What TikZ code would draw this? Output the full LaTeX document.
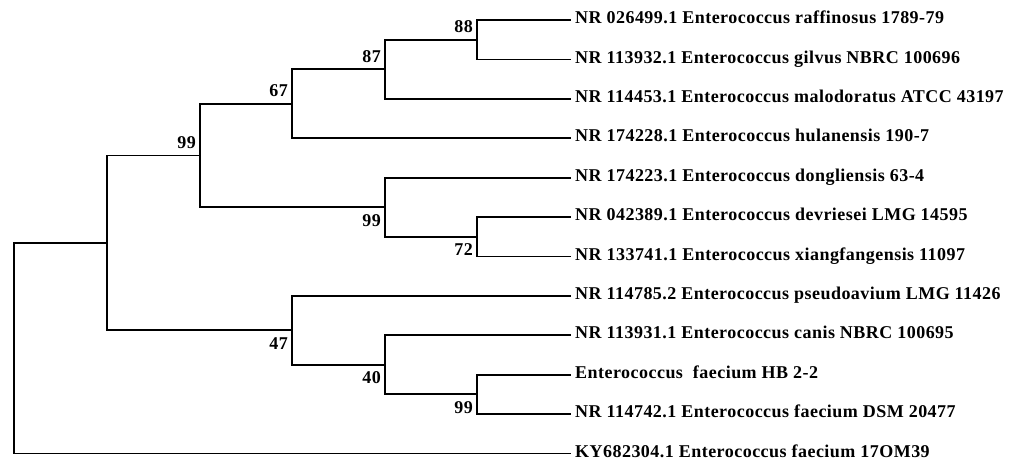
\documentclass[tikz,border=0pt]{standalone}
\usepackage{fontspec}
\newfontfamily\labfont{Liberation Serif}[LetterSpace=2.6]
\begin{document}
\begin{tikzpicture}[x=1pt,y=-1pt,
  br/.style={line width=1.8pt, black},
  leaflab/.style={font=\labfont\bfseries\fontsize{18}{20}\selectfont, anchor=base west, inner sep=0pt},
  bs/.style={font=\labfont\bfseries\fontsize{18}{20}\selectfont, anchor=east, inner sep=0pt}]
\useasboundingbox (0,0) rectangle (1016,459);
% leaf ends
\coordinate (L1) at (571,20);
\coordinate (L2) at (571,59.4);
\coordinate (L3) at (571,98.8);
\coordinate (L4) at (571,138.2);
\coordinate (L5) at (571,177.6);
\coordinate (L6) at (571,217);
\coordinate (L7) at (571,256.4);
\coordinate (L8) at (571,295.8);
\coordinate (L9) at (571,335.2);
\coordinate (L10) at (571,374.6);
\coordinate (L11) at (571,414);
\coordinate (L12) at (571,453.4);
% internal nodes
\coordinate (A) at (477,39.7);
\coordinate (B) at (385,69.25);
\coordinate (C) at (292,103.7);
\coordinate (D) at (477,236.7);
\coordinate (E) at (385,207.2);
\coordinate (F) at (200,155.5);
\coordinate (G) at (477,394.3);
\coordinate (H) at (385,364.8);
\coordinate (I) at (292,330.3);
\coordinate (J) at (107,242.9);
\coordinate (R) at (14,248.15);
% branches
\draw[br] (A) |- (L1);  \draw[br] (A) |- (L2);
\draw[br] (B) |- (A);   \draw[br] (B) |- (L3);
\draw[br] (C) |- (B);   \draw[br] (C) |- (L4);
\draw[br] (D) |- (L6);  \draw[br] (D) |- (L7);
\draw[br] (E) |- (L5);  \draw[br] (E) |- (D);
\draw[br] (F) |- (C);   \draw[br] (F) |- (E);
\draw[br] (G) |- (L10); \draw[br] (G) |- (L11);
\draw[br] (H) |- (L9);  \draw[br] (H) |- (G);
\draw[br] (I) |- (L8);  \draw[br] (I) |- (H);
\draw[br] (J) |- (F);   \draw[br] (J) |- (I);
\draw[br] (R) |- (J);   \draw[br] (R) |- (L12);
% leaf labels
\node[leaflab] (t1)  at ([shift={(4,3.6)}]L1)  {NR 026499.1 Enterococcus raffinosus 1789-79};
\node[leaflab] (t2)  at ([shift={(4,3.6)}]L2)  {NR 113932.1 Enterococcus gilvus NBRC 100696};
\node[leaflab] (t3)  at ([shift={(4,3.6)}]L3)  {NR 114453.1 Enterococcus malodoratus ATCC 43197};
\node[leaflab] (t4)  at ([shift={(4,3.6)}]L4)  {NR 174228.1 Enterococcus hulanensis 190-7};
\node[leaflab] (t5)  at ([shift={(4,3.6)}]L5)  {NR 174223.1 Enterococcus dongliensis 63-4};
\node[leaflab] (t6)  at ([shift={(4,3.6)}]L6)  {NR 042389.1 Enterococcus devriesei LMG 14595};
\node[leaflab] (t7)  at ([shift={(4,3.6)}]L7)  {NR 133741.1 Enterococcus xiangfangensis 11097};
\node[leaflab] (t8)  at ([shift={(4,3.6)}]L8)  {NR 114785.2 Enterococcus pseudoavium LMG 11426};
\node[leaflab] (t9)  at ([shift={(4,3.6)}]L9)  {NR 113931.1 Enterococcus canis NBRC 100695};
\node[leaflab] (t10) at ([shift={(4,3.6)}]L10) {Enterococcus\ \ faecium HB 2-2};
\node[leaflab] (t11) at ([shift={(4,3.6)}]L11) {NR 114742.1 Enterococcus faecium DSM 20477};
\node[leaflab] (t12) at ([shift={(4,3.6)}]L12) {KY682304.1 Enterococcus faecium 17OM39};
% bootstrap values
\node[bs] (bA) at ([shift={(-4,-13)}]A) {88};
\node[bs] (bB) at ([shift={(-4,-13)}]B) {87};
\node[bs] (bC) at ([shift={(-4,-13)}]C) {67};
\node[bs] (bF) at ([shift={(-4,-13)}]F) {99};
\node[bs] (bE) at ([shift={(-4,13)}]E) {99};
\node[bs] (bD) at ([shift={(-4,13)}]D) {72};
\node[bs] (bI) at ([shift={(-4,13)}]I) {47};
\node[bs] (bH) at ([shift={(-4,13)}]H) {40};
\node[bs] (bG) at ([shift={(-4,13)}]G) {99};
\end{tikzpicture}
\end{document}
